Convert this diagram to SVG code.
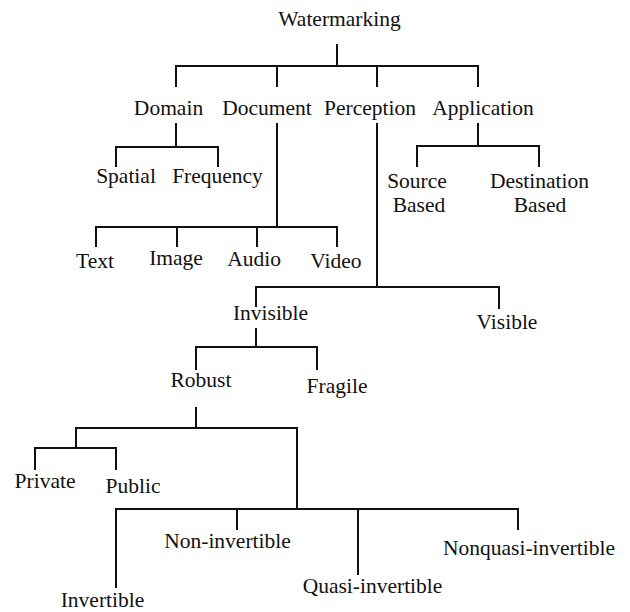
<svg xmlns="http://www.w3.org/2000/svg" width="630" height="612" viewBox="0 0 630 612" font-family="Liberation Serif, Times New Roman, DejaVu Serif, serif">
<style>
text{font-size:21.5px;fill:#111;text-anchor:middle}
.c path{fill:none;stroke:#111;stroke-width:2;stroke-linecap:square}
</style>
<rect width="630" height="612" fill="#fff"/>
<g class="c" id="connectors">
<path d="M337 45V66M176 86V66H478V86M277 66V86M377 66V86"/>
<path d="M176 124V147M116 166V147H218V166"/>
<path d="M277 124V227M96 246V227H337V246M177 227V246M257 227V246"/>
<path d="M377 124V287M256 306V287H499V308"/>
<path d="M478 124V146M417 166V146H539V166"/>
<path d="M256 329V347M196 369V347H317V369"/>
<path d="M196 408V428M76 448V428H297V509M35 469V448H116V469"/>
<path d="M116 587V509H518V529M237 509V529M358 509V574"/>
</g>
<g id="watermarking"><text x="339.5" y="26" font-family="Liberation Serif">Watermarking</text></g>
<g id="domain"><text x="168.5" y="115">Domain</text></g>
<g id="document"><text x="267" y="115">Document</text></g>
<g id="perception"><text x="370" y="115">Perception</text></g>
<g id="application"><text x="483" y="115">Application</text></g>
<g id="spatial"><text x="126" y="183">Spatial</text></g>
<g id="frequency"><text x="217.5" y="183">Frequency</text></g>
<g id="text"><text x="95" y="268">Text</text></g>
<g id="image"><text x="176" y="265">Image</text></g>
<g id="audio"><text x="254" y="266">Audio</text></g>
<g id="video"><text x="336" y="268">Video</text></g>
<g id="source"><text x="417" y="188">Source</text><text x="419" y="212">Based</text></g>
<g id="destination"><text x="539.5" y="188">Destination</text><text x="540" y="212">Based</text></g>
<g id="invisible"><text x="270.5" y="320">Invisible</text></g>
<g id="visible"><text x="507" y="329">Visible</text></g>
<g id="robust"><text x="201" y="387">Robust</text></g>
<g id="fragile"><text x="337" y="393">Fragile</text></g>
<g id="private"><text x="45" y="488">Private</text></g>
<g id="public"><text x="133" y="493">Public</text></g>
<g id="noninvertible"><text x="227.5" y="548">Non-invertible</text></g>
<g id="nonquasi"><text x="529" y="555">Nonquasi-invertible</text></g>
<g id="quasi"><text x="372.5" y="593">Quasi-invertible</text></g>
<g id="invertible"><text x="102.5" y="607">Invertible</text></g>
</svg>
